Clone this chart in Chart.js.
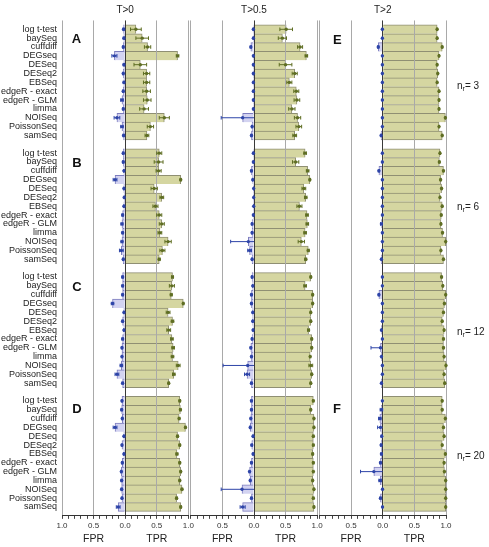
<!DOCTYPE html>
<html>
<head>
<meta charset="utf-8">
<script src="https://cdn.jsdelivr.net/npm/chart.js@4/dist/chart.umd.min.js"></script>
<style>
html,body{margin:0;padding:0;background:#fff;}
#fig{position:relative;width:489px;height:547px;overflow:hidden;font-family:"Liberation Sans",Arial,Helvetica,sans-serif;color:#222;}
#fig canvas{position:absolute;left:0;top:0;}
.lbl{position:absolute;white-space:nowrap;line-height:1;}
.hdr{font-size:10px;transform:translateX(-50%);}
.let{font-size:13px;font-weight:bold;color:#111;}
.nr{font-size:10px;}
.nr sub{font-size:7px;vertical-align:-2px;line-height:0;}
.ax{font-size:10.5px;transform:translateX(-50%);}
</style>
</head>
<body>
<div id="fig">
  <canvas id="col0" width="489" height="547"></canvas>
  <canvas id="col1" width="489" height="547"></canvas>
  <canvas id="col2" width="489" height="547"></canvas>
</div>
<script>
// ---------------- data ----------------
const methods = ['log t-test','baySeq','cuffdiff','DEGseq','DESeq','DESeq2','EBSeq','edgeR - exact','edgeR - GLM','limma','NOISeq','PoissonSeq','samSeq'];
const thresholdLabels = ['T>0','T>0.5','T>2'];
const replicateCounts = [3, 6, 12, 20];
const panelLetters = ['A','B','C','D','E','F'];
const axisTitles = ['FPR','TPR'];

// T>0
const tpr_T0_n3     = [0.17,0.27,0.355,0.83,0.24,0.34,0.34,0.34,0.35,0.30,0.62,0.40,0.345];
const tprErr_T0_n3  = [0.085,0.10,0.05,0.02,0.10,0.05,0.05,0.06,0.06,0.07,0.08,0.05,0.03];
const fpr_T0_n3     = [0.025,0.02,0.03,0.17,0.02,0.03,0.02,0.03,0.05,0.03,0.13,0.05,0.025];
const fprErr_T0_n3  = [0.01,0.01,0.01,0.04,0.01,0.01,0.01,0.01,0.02,0.01,0.045,0.02,0.01];

const tpr_T0_n6     = [0.54,0.53,0.53,0.88,0.46,0.58,0.48,0.54,0.58,0.55,0.68,0.59,0.54];
const tprErr_T0_n6  = [0.04,0.07,0.04,0.01,0.05,0.03,0.04,0.04,0.04,0.03,0.05,0.04,0.015];
const fpr_T0_n6     = [0.03,0.03,0.02,0.16,0.02,0.015,0.02,0.04,0.05,0.04,0.05,0.06,0.03];
const fprErr_T0_n6  = [0.01,0.01,0.005,0.03,0.005,0.005,0.005,0.01,0.015,0.01,0.015,0.03,0.01];

const tpr_T0_n12    = [0.75,0.74,0.73,0.92,0.68,0.75,0.69,0.74,0.76,0.75,0.84,0.77,0.69];
const tprErr_T0_n12 = [0.015,0.04,0.015,0.01,0.03,0.02,0.03,0.02,0.02,0.02,0.03,0.02,0.01];
const fpr_T0_n12    = [0.04,0.04,0.04,0.20,0.02,0.04,0.02,0.04,0.05,0.05,0.06,0.13,0.04];
const fprErr_T0_n12 = [0.01,0.01,0.01,0.02,0.005,0.01,0.005,0.01,0.01,0.01,0.02,0.03,0.01];

const tpr_T0_n20    = [0.865,0.875,0.855,0.955,0.83,0.865,0.82,0.865,0.88,0.865,0.90,0.815,0.88];
const tprErr_T0_n20 = [0.012,0.012,0.012,0.01,0.012,0.012,0.015,0.012,0.012,0.012,0.012,0.012,0.012];
const fpr_T0_n20    = [0.05,0.055,0.045,0.16,0.02,0.05,0.02,0.045,0.06,0.055,0.055,0.05,0.11];
const fprErr_T0_n20 = [0.01,0.01,0.01,0.03,0.005,0.01,0.005,0.01,0.01,0.01,0.01,0.01,0.03];

// T>0.5
const tpr_T05_n3     = [0.51,0.45,0.73,0.83,0.50,0.645,0.56,0.67,0.68,0.60,0.69,0.71,0.645];
const tprErr_T05_n3  = [0.10,0.065,0.04,0.02,0.10,0.04,0.04,0.04,0.045,0.05,0.05,0.045,0.03];
const fpr_T05_n3     = [0.01,0.01,0.05,0.01,0.01,0.01,0.01,0.01,0.01,0.01,0.18,0.03,0.04];
const fprErr_T05_n3  = [0.005,0.005,0.01,0.005,0.005,0.005,0.005,0.005,0.005,0.005,0.34,0.01,0.01];

const tpr_T05_n6     = [0.81,0.66,0.85,0.885,0.79,0.82,0.72,0.84,0.845,0.81,0.75,0.86,0.82];
const tprErr_T05_n6  = [0.02,0.05,0.02,0.01,0.03,0.02,0.04,0.02,0.02,0.02,0.05,0.015,0.015];
const fpr_T05_n6     = [0.01,0.01,0.04,0.02,0.005,0.005,0.005,0.01,0.03,0.03,0.09,0.07,0.03];
const fprErr_T05_n6  = [0.005,0.005,0.01,0.005,0.003,0.003,0.003,0.005,0.01,0.01,0.28,0.03,0.01];

const tpr_T05_n12    = [0.90,0.81,0.93,0.93,0.90,0.90,0.865,0.915,0.915,0.89,0.90,0.915,0.90];
const tprErr_T05_n12 = [0.01,0.02,0.01,0.01,0.01,0.01,0.015,0.01,0.01,0.01,0.03,0.01,0.01];
const fpr_T05_n12    = [0.03,0.02,0.04,0.04,0.02,0.02,0.015,0.03,0.05,0.04,0.10,0.11,0.04];
const fprErr_T05_n12 = [0.01,0.005,0.01,0.01,0.005,0.005,0.005,0.01,0.01,0.01,0.39,0.04,0.01];

const tpr_T05_n20    = [0.94,0.90,0.95,0.95,0.94,0.94,0.93,0.94,0.94,0.93,0.95,0.94,0.95];
const tprErr_T05_n20 = [0.01,0.01,0.01,0.01,0.01,0.01,0.01,0.01,0.01,0.01,0.01,0.01,0.01];
const fpr_T05_n20    = [0.04,0.04,0.05,0.06,0.015,0.035,0.015,0.04,0.07,0.06,0.19,0.04,0.18];
const fprErr_T05_n20 = [0.01,0.01,0.01,0.01,0.005,0.01,0.005,0.01,0.01,0.01,0.33,0.01,0.04];

// T>2
const tpr_T2_n3     = [0.86,0.86,0.94,0.89,0.86,0.87,0.86,0.89,0.89,0.89,0.99,0.89,0.94];
const tprErr_T2_n3  = [0.008,0.008,0.008,0.008,0.008,0.008,0.008,0.008,0.008,0.008,0.005,0.008,0.008];
const fpr_T2_n3     = [0.005,0.005,0.07,0.005,0.005,0.005,0.005,0.005,0.005,0.005,0.005,0.005,0.025];
const fprErr_T2_n3  = [0.003,0.003,0.01,0.003,0.003,0.003,0.003,0.003,0.003,0.003,0.003,0.003,0.005];

const tpr_T2_n6     = [0.905,0.895,0.96,0.915,0.93,0.905,0.94,0.925,0.92,0.945,0.995,0.92,0.96];
const tprErr_T2_n6  = [0.008,0.008,0.008,0.008,0.008,0.008,0.008,0.008,0.008,0.008,0.004,0.008,0.008];
const fpr_T2_n6     = [0.005,0.005,0.06,0.005,0.005,0.005,0.005,0.005,0.02,0.005,0.005,0.005,0.02];
const fprErr_T2_n6  = [0.003,0.003,0.01,0.003,0.003,0.003,0.003,0.003,0.015,0.003,0.003,0.003,0.005];

const tpr_T2_n12    = [0.93,0.95,0.995,0.975,0.96,0.94,0.97,0.96,0.96,0.97,1.0,0.97,0.98];
const tprErr_T2_n12 = [0.008,0.008,0.004,0.008,0.008,0.008,0.008,0.008,0.008,0.008,0.003,0.008,0.008];
const fpr_T2_n12    = [0.005,0.005,0.06,0.005,0.005,0.005,0.02,0.005,0.035,0.02,0.005,0.005,0.02];
const fprErr_T2_n12 = [0.003,0.003,0.01,0.003,0.003,0.003,0.005,0.003,0.15,0.005,0.003,0.003,0.005];

const tpr_T2_n20    = [0.94,0.94,0.99,0.96,0.97,0.94,0.99,0.97,0.975,0.995,0.995,0.995,0.995];
const tprErr_T2_n20 = [0.008,0.008,0.005,0.008,0.008,0.008,0.005,0.008,0.008,0.004,0.004,0.004,0.004];
const fpr_T2_n20    = [0.005,0.02,0.045,0.035,0.015,0.025,0.02,0.035,0.14,0.04,0.003,0.035,0.003];
const fprErr_T2_n20 = [0.003,0.02,0.02,0.045,0.01,0.01,0.01,0.01,0.21,0.02,0.003,0.01,0.003];

// ---------------- style ----------------
const TPR_FILL = '#d5d6a1', TPR_EDGE = '#8f8f73', TPR_ERR = '#5f6e23';
const FPR_FILL = '#d3d3f1', FPR_EDGE = '#7d7dbe', FPR_ERR = '#2d44a8';
const W = 489, H = 547, TOP = 20.45, BOTTOM = 515.85;
const areas = [{left:62, right:188.3}, {left:190.9, right:317.1}, {left:319.4, right:446}];
Chart.defaults.font.family = '"Liberation Sans", Arial, Helvetica, sans-serif';

const columns = [
  {tpr:[tpr_T0_n3,tpr_T0_n6,tpr_T0_n12,tpr_T0_n20], tprErr:[tprErr_T0_n3,tprErr_T0_n6,tprErr_T0_n12,tprErr_T0_n20],
   fpr:[fpr_T0_n3,fpr_T0_n6,fpr_T0_n12,fpr_T0_n20], fprErr:[fprErr_T0_n3,fprErr_T0_n6,fprErr_T0_n12,fprErr_T0_n20]},
  {tpr:[tpr_T05_n3,tpr_T05_n6,tpr_T05_n12,tpr_T05_n20], tprErr:[tprErr_T05_n3,tprErr_T05_n6,tprErr_T05_n12,tprErr_T05_n20],
   fpr:[fpr_T05_n3,fpr_T05_n6,fpr_T05_n12,fpr_T05_n20], fprErr:[fprErr_T05_n3,fprErr_T05_n6,fprErr_T05_n12,fprErr_T05_n20]},
  {tpr:[tpr_T2_n3,tpr_T2_n6,tpr_T2_n12,tpr_T2_n20], tprErr:[tprErr_T2_n3,tprErr_T2_n6,tprErr_T2_n12,tprErr_T2_n20],
   fpr:[fpr_T2_n3,fpr_T2_n6,fpr_T2_n12,fpr_T2_n20], fprErr:[fprErr_T2_n3,fprErr_T2_n6,fprErr_T2_n12,fprErr_T2_n20]}
];

function assemble(blocks, filler){
  const out = [filler];
  blocks.forEach((b,i)=>{ if(i) out.push(filler); b.forEach(v=>out.push(v)); });
  out.push(filler);
  return out;
}
const labels = assemble(replicateCounts.map(()=>methods), '');
const lastIdx = new Set();
labels.forEach((l,i)=>{ if(l!=='' && labels[i+1]==='') lastIdx.add(i); });
const bw = ctx => ({top:1, left:1, right:1, bottom: lastIdx.has(ctx.dataIndex) ? 1 : 0});

const errPlugin = {
  id:'errbars',
  afterDraw(chart){
    const ctx = chart.ctx, xs = chart.scales.x;
    ctx.save();
    chart.data.datasets.forEach((ds,di)=>{
      const meta = chart.getDatasetMeta(di);
      ds.data.forEach((v,i)=>{
        if(v==null) return;
        const e = ds.err[i] || 0;
        const y = meta.data[i].y;
        let lo = v-e, hi = v+e, capLo = true, capHi = true;
        if(v<0){ if(hi>0){hi=0;capHi=false;} if(lo<-1) lo=-1; }
        else { if(hi>1) hi=1; if(lo<0){lo=0;capLo=false;} }
        const x0 = xs.getPixelForValue(lo), x1 = xs.getPixelForValue(hi), xv = xs.getPixelForValue(v);
        ctx.strokeStyle = ds.errColor; ctx.fillStyle = ds.errColor; ctx.lineWidth = 1;
        ctx.beginPath();
        ctx.moveTo(x0,y); ctx.lineTo(x1,y);
        if(capLo){ ctx.moveTo(x0,y-1.8); ctx.lineTo(x0,y+1.8); }
        if(capHi){ ctx.moveTo(x1,y-1.8); ctx.lineTo(x1,y+1.8); }
        ctx.stroke();
        ctx.beginPath(); ctx.arc(xv,y,1.7,0,Math.PI*2); ctx.fill();
      });
    });
    ctx.restore();
  }
};

function gridColor(ctx){
  const v = ctx.tick ? Math.round(ctx.tick.value*10)/10 : 0;
  if(v===0) return '#3a3a3a';
  if(Math.abs(v)===0.5 || Math.abs(v)===1) return '#a9a9a9';
  return 'rgba(0,0,0,0)';
}

function makeChart(ci){
  const col = columns[ci], a = areas[ci];
  const yScale = {type:'category', offset:false, display: ci===0,
           grid:{display:false, drawTicks:false, tickLength:0}, border:{display:false},
           ticks:{autoSkip:false, font:{size:9}, color:'#222', padding:5}};
  if(ci===0) yScale.afterFit = s => { s.width = a.left; };
  return new Chart(document.getElementById('col'+ci), {
    type:'bar',
    data:{
      labels,
      datasets:[
        {label:'TPR', data:assemble(col.tpr,null), err:assemble(col.tprErr,null), errColor:TPR_ERR,
         backgroundColor:TPR_FILL, borderColor:TPR_EDGE, borderWidth:bw, grouped:false,
         barPercentage:1, categoryPercentage:1},
        {label:'FPR', data:assemble(col.fpr.map(b=>b.map(v=>-v)),null), err:assemble(col.fprErr,null), errColor:FPR_ERR,
         backgroundColor:FPR_FILL, borderColor:FPR_EDGE, borderWidth:bw, grouped:false,
         barPercentage:1, categoryPercentage:1}
      ]
    },
    options:{
      indexAxis:'y', responsive:false, animation:false, devicePixelRatio:1,
      layout:{padding:{left: ci===0 ? 0 : a.left, right: W - a.right, top: TOP, bottom: 0}},
      plugins:{legend:{display:false}, tooltip:{enabled:false}},
      scales:{
        x:{type:'linear', min:-1, max:1, position:'bottom',
           afterFit: s => { s.height = H - BOTTOM; },
           ticks:{stepSize:0.1, autoSkip:false, maxRotation:0, font:{size:8}, color:'#333', padding:2,
             callback: v => {
               const r = Math.round(v*10)/10;
               if(Math.abs(r*2 - Math.round(r*2)) > 1e-6) return '';
               if(ci>0 && r<=-1) return '';
               return Math.abs(r).toFixed(1);
             }},
           grid:{z:1, color:gridColor, lineWidth:1, tickLength:3, tickColor:'#444', drawTicks:true},
           border:{display:true, color:'#333', width:1, z:2}},
        y:yScale
      }
    },
    plugins:[errPlugin]
  });
}

const charts = [0,1,2].map(makeChart);

// ---------------- text overlays ----------------
const fig = document.getElementById('fig');
function addText(cls, html, left, top){
  const d = document.createElement('div');
  d.className = 'lbl ' + cls; d.innerHTML = html;
  d.style.left = left + 'px'; d.style.top = top + 'px';
  fig.appendChild(d);
}
charts.forEach((ch,ci)=>{
  const xs = ch.scales.x;
  addText('hdr', thresholdLabels[ci].replace('>','&gt;'), xs.getPixelForValue(0), 4.8);
  addText('ax', axisTitles[0], xs.getPixelForValue(-0.5), 532.5);
  addText('ax', axisTitles[1], xs.getPixelForValue(0.5), 532.5);
});
const letterPos = [[71.7,32.3],[72.2,155.7],[72.2,279.7],[72.2,402],[333,33],[333,402]];
panelLetters.forEach((L,i)=>addText('let', L, letterPos[i][0], letterPos[i][1]));
const nrTops = [80.5, 202.2, 326.5, 450.5];
replicateCounts.forEach((n,i)=>addText('nr', 'n<sub>r</sub>= ' + n, 457, nrTops[i]));
</script>
</body>
</html>
